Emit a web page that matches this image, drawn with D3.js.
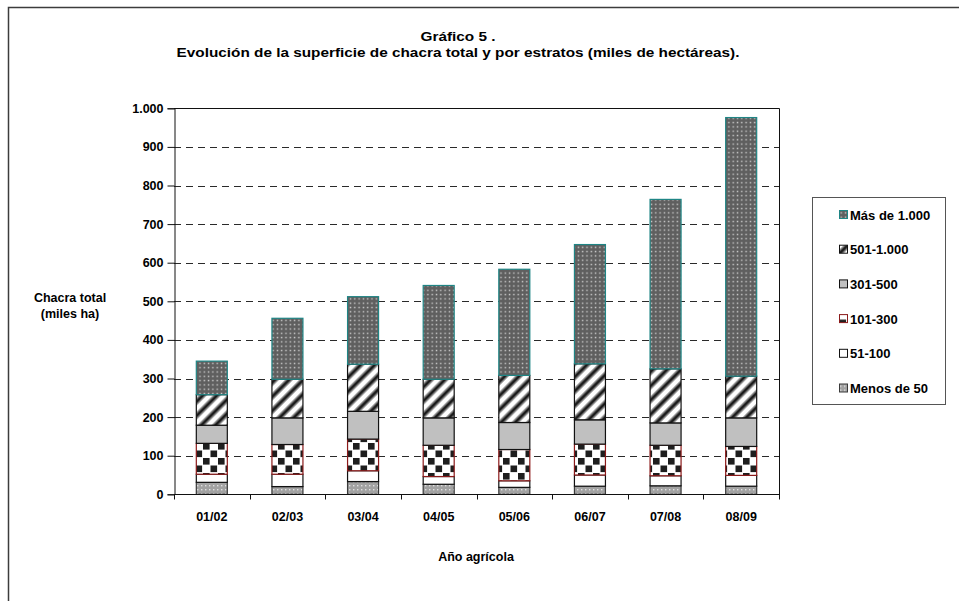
<!DOCTYPE html>
<html>
<head>
<meta charset="utf-8">
<script src="https://cdn.jsdelivr.net/npm/d3@7"></script>
<style>
  body { margin: 0; background: #fff; }
  svg { display: block; font-family: "Liberation Sans", Arial, sans-serif; font-weight: bold; }
</style>
</head>
<body>
<script>
// campañas agrícolas
var categories = ["01/02", "02/03", "03/04", "04/05", "05/06", "06/07", "07/08", "08/09"];

// superficie por estrato (miles de ha)
var menos50   = [31, 20, 33, 26, 18, 21, 22, 21];
var de51a100  = [21, 32, 28, 20, 17, 29, 26, 28];
var de101a300 = [80, 77, 82, 81, 81, 80, 79, 75];
var de301a500 = [47, 69, 72, 71, 70, 63, 58, 74];
var de501a1000 = [79, 100, 122, 100, 122, 145, 140, 108];
var mas1000   = [87, 158, 175, 243, 275, 309, 439, 670];

var seriesNames = ["Menos de 50", "51-100", "101-300", "301-500", "501-1.000", "Más de 1.000"];
var seriesValues = [menos50, de51a100, de101a300, de301a500, de501a1000, mas1000];
var yTicks = [0, 100, 200, 300, 400, 500, 600, 700, 800, 900, 1000];

var W = 959, H = 601;
var plot = { left: 174, right: 779, top: 108.3, bottom: 494.3 };

var svg = d3.select("body").append("svg")
    .attr("width", W)
    .attr("height", H);

//patterns for the bar fills
var defs = svg.append("defs");

var pLight = defs.append("pattern").attr("id", "p0")
    .attr("patternUnits", "userSpaceOnUse").attr("width", 4).attr("height", 4);
pLight.append("rect").attr("width", 4).attr("height", 4).attr("fill", "#a2a2a2");
pLight.append("rect").attr("x", 1).attr("y", 1).attr("width", 1.4).attr("height", 1.4).attr("fill", "#e0e0e0");

var pWhite = defs.append("pattern").attr("id", "p1")
    .attr("patternUnits", "userSpaceOnUse").attr("width", 4).attr("height", 4);
pWhite.append("rect").attr("width", 4).attr("height", 4).attr("fill", "#ffffff");

var pCheck = defs.append("pattern").attr("id", "p2")
    .attr("patternUnits", "userSpaceOnUse").attr("width", 15).attr("height", 15);
pCheck.append("rect").attr("width", 15).attr("height", 15).attr("fill", "#ffffff");
pCheck.append("rect").attr("x", 0.5).attr("y", 0.5).attr("width", 6.6).attr("height", 6.6).attr("fill", "#1e1e1e");
pCheck.append("rect").attr("x", 8).attr("y", 8).attr("width", 6.6).attr("height", 6.6).attr("fill", "#1e1e1e");

var pGray = defs.append("pattern").attr("id", "p3")
    .attr("patternUnits", "userSpaceOnUse").attr("width", 4).attr("height", 4);
pGray.append("rect").attr("width", 4).attr("height", 4).attr("fill", "#c0c0c0");

var pStripe = defs.append("pattern").attr("id", "p4")
    .attr("patternUnits", "userSpaceOnUse").attr("width", 10).attr("height", 10)
    .attr("patternTransform", "rotate(45)");
pStripe.append("rect").attr("width", 10).attr("height", 10).attr("fill", "#ffffff");
pStripe.append("line").attr("x1", 3).attr("y1", 0).attr("x2", 3).attr("y2", 10)
    .attr("stroke", "#8a8a8a").attr("stroke-width", 5.5);
pStripe.append("line").attr("x1", 3).attr("y1", 0).attr("x2", 3).attr("y2", 10)
    .attr("stroke", "#1c1c1c").attr("stroke-width", 2.8);

var pDark = defs.append("pattern").attr("id", "p5")
    .attr("patternUnits", "userSpaceOnUse").attr("width", 4.3).attr("height", 4.3);
pDark.append("rect").attr("width", 4.3).attr("height", 4.3).attr("fill", "#5f5f5f");
pDark.append("rect").attr("x", 1.5).attr("y", 1.5).attr("width", 1.4).attr("height", 1.4).attr("fill", "#cfcfcf");

var strokes = ["#3a3a3a", "#111111", "#8b1a1a", "#111111", "#111111", "#1f8585"];

//outer frame of the chart area
svg.append("rect")
    .attr("x", 8.5).attr("y", 7.5)
    .attr("width", W + 20).attr("height", H + 20)
    .attr("fill", "none")
    .attr("stroke", "#3c3c3c")
    .attr("stroke-width", 1.5);

//scales
var x = d3.scaleBand()
    .domain(categories)
    .range([plot.left, plot.right])
    .paddingInner(0.59)
    .paddingOuter(0.295);

var y = d3.scaleLinear()
    .domain([0, 1000])
    .range([plot.bottom, plot.top]);

var fmt = d3.formatLocale({ decimal: ",", thousands: ".", grouping: [3], currency: ["", ""] }).format(",");

//dashed grid lines
svg.append("g").selectAll("line")
    .data(yTicks.filter(function(d) { return d > 0 && d < 1000; }))
  .enter().append("line")
    .attr("x1", plot.left).attr("x2", plot.right)
    .attr("y1", function(d) { return Math.round(y(d)) + 0.5; })
    .attr("y2", function(d) { return Math.round(y(d)) + 0.5; })
    .attr("stroke", "#2a2a2a")
    .attr("stroke-dasharray", "7,5");

//plot area border (top and right)
svg.append("path")
    .attr("d", "M" + plot.left + "," + (Math.round(plot.top) + 0.5) + "H" + (plot.right + 0.5) + "V" + plot.bottom)
    .attr("fill", "none")
    .attr("stroke", "#111");

//stacked bars
var table = categories.map(function(c, i) {
  var row = { cat: c };
  seriesNames.forEach(function(s, k) { row[s] = seriesValues[k][i]; });
  return row;
});
var stacked = d3.stack().keys(seriesNames)(table);

svg.append("g").selectAll("g")
    .data(stacked)
  .enter().append("g")
    .attr("fill", function(d, k) { return "url(#p" + k + ")"; })
    .attr("stroke", function(d, k) { return strokes[k]; })
    .attr("stroke-width", 1.2)
  .selectAll("rect")
    .data(function(d) { return d; })
  .enter().append("rect")
    .attr("x", function(d) { return x(d.data.cat); })
    .attr("width", x.bandwidth())
    .attr("y", function(d) { return y(d[1]); })
    .attr("height", function(d) { return y(d[0]) - y(d[1]); });

//y axis
var yAxis = d3.axisLeft(y).tickValues(yTicks).tickSize(7).tickPadding(4).tickFormat(fmt);
var gy = svg.append("g")
    .attr("transform", "translate(" + (plot.left + 0.5) + ",0)")
    .call(yAxis);
gy.select(".domain").attr("stroke", "#111");
gy.selectAll(".tick line").attr("stroke", "#111");
gy.selectAll("text")
    .attr("font-family", "'Liberation Sans', Arial, sans-serif")
    .attr("font-weight", "bold")
    .attr("font-size", "12.5px")
    .attr("fill", "#000");

//x axis, ticks between categories
var gx = svg.append("g")
    .attr("transform", "translate(0," + (Math.round(plot.bottom) + 0.5) + ")");
gx.append("line")
    .attr("x1", plot.left).attr("x2", plot.right + 1)
    .attr("stroke", "#111");
var step = x.step();
gx.selectAll(".sep")
    .data(d3.range(categories.length + 1))
  .enter().append("line")
    .attr("class", "sep")
    .attr("x1", function(i) { return Math.round(plot.left + i * step) + 0.5; })
    .attr("x2", function(i) { return Math.round(plot.left + i * step) + 0.5; })
    .attr("y1", 0).attr("y2", 5)
    .attr("stroke", "#111");
gx.selectAll(".lbl")
    .data(categories)
  .enter().append("text")
    .attr("class", "lbl")
    .attr("x", function(d) { return x(d) + x.bandwidth() / 2; })
    .attr("y", 26)
    .attr("text-anchor", "middle")
    .attr("font-size", "12.5px")
    .text(function(d) { return d; });

//titles (the original is stretched sideways)
var title = svg.append("g")
    .attr("transform", "translate(458,0) scale(1.18,1)");
title.append("text")
    .attr("x", 0).attr("y", 41)
    .attr("text-anchor", "middle")
    .attr("font-size", "13px")
    .text("Gráfico 5 .");
title.append("text")
    .attr("x", 0).attr("y", 57)
    .attr("text-anchor", "middle")
    .attr("font-size", "13px")
    .text("Evolución de la superficie de chacra total y por estratos (miles de hectáreas).");

svg.append("text")
    .attr("x", 70).attr("y", 302)
    .attr("text-anchor", "middle")
    .attr("font-size", "12.5px")
    .text("Chacra total");
svg.append("text")
    .attr("x", 70).attr("y", 318)
    .attr("text-anchor", "middle")
    .attr("font-size", "12.5px")
    .text("(miles ha)");

svg.append("text")
    .attr("x", 476).attr("y", 561)
    .attr("text-anchor", "middle")
    .attr("font-size", "12.5px")
    .text("Año agrícola");

//legend
var legend = svg.append("g");
legend.append("rect")
    .attr("x", 812.5).attr("y", 197.5)
    .attr("width", 133).attr("height", 207)
    .attr("fill", "#fff")
    .attr("stroke", "#555");

var legendOrder = d3.range(seriesNames.length).reverse();
var li = legend.selectAll(".item")
    .data(legendOrder)
  .enter().append("g")
    .attr("class", "item")
    .attr("transform", function(k, i) { return "translate(839," + (215 + i * 34.7) + ")"; });
li.append("rect")
    .attr("x", 0.5).attr("y", -4.5)
    .attr("width", 8).attr("height", 8)
    .attr("fill", function(k) { return "url(#p" + k + ")"; })
    .attr("stroke", function(k) { return strokes[k]; });
li.append("text")
    .attr("x", 11).attr("y", 4.5)
    .attr("font-size", "13px")
    .text(function(k) { return seriesNames[k]; });
</script>
</body>
</html>
